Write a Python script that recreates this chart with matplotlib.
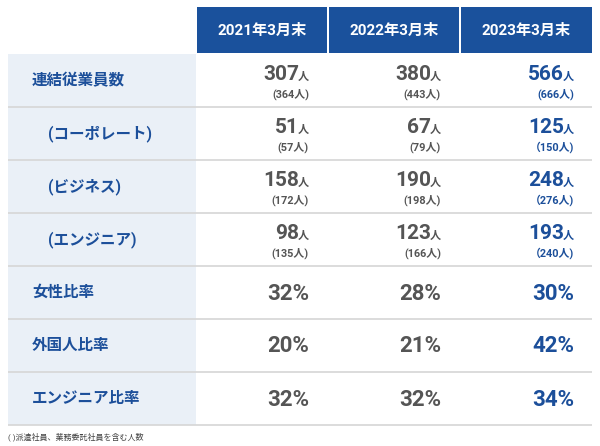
import matplotlib
matplotlib.use("Agg")
import matplotlib.pyplot as plt
from matplotlib.patches import Rectangle

plt.rcParams['font.family'] = ['Roboto', 'Noto Sans CJK JP', 'DejaVu Sans']

# table data
years = ["2021年3月末", "2022年3月末", "2023年3月末"]
row_labels = ["連結従業員数", "(コーポレート)", "(ビジネス)", "(エンジニア)",
              "女性比率", "外国人比率", "エンジニア比率"]
indented = [False, True, True, True, False, False, False]
counts = [[307, 380, 566],
          [51, 67, 125],
          [158, 190, 248],
          [98, 123, 193]]
counts_incl = [["(364人)", "(443人)", "(666人)"],
               ["(57人)", "(79人)", "（150人)"],
               ["(172人)", "(198人)", "（276人)"],
               ["(135人)", "(166人)", "（240人)"]]
ratios = [[32, 28, 30],
          [20, 21, 42],
          [32, 32, 34]]
note = "( )派遣社員、業務委託社員を含む人数"

HEAD_BLUE = "#1a519c"
LABEL_BLUE = "#1c4f9a"
GRAY = "#555555"
LABEL_BG = "#eaf0f7"
LINE = "#d6d6d6"

fig = plt.figure(figsize=(6, 4.46), dpi=100)
ax = fig.add_axes([0, 0, 1, 1])
ax.set_xlim(0, 600)
ax.set_ylim(446, 0)
ax.axis("off")

left, label_right = 8, 196
col_x = [(197, 327), (329, 459), (461, 592)]
head_top, head_bot = 7, 53
row_top, row_h = 54, 53
nrows = len(row_labels)

# header cells
for (x0, x1), yr in zip(col_x, years):
    ax.add_patch(Rectangle((x0, head_top), x1 - x0, head_bot - head_top,
                           color=HEAD_BLUE, lw=0))
    ax.text((x0 + x1) / 2, (head_top + head_bot) / 2 + 1, yr, color="white",
            fontsize=11, fontweight="bold", ha="center", va="center")

# label column background
ax.add_patch(Rectangle((left, row_top), label_right - left, row_h * nrows,
                       color=LABEL_BG, lw=0))

# row separators
for i in range(1, nrows + 1):
    y = row_top + i * row_h
    ax.plot([left, 592], [y, y], color=LINE, lw=1.2, solid_capstyle="butt")

fig.canvas.draw()
renderer = fig.canvas.get_renderer()


def value_with_unit(x_right, y, number, unit, color, size_main, size_unit):
    t = ax.text(x_right, y, unit, color=color, fontsize=size_unit,
                fontweight="bold", ha="right", va="baseline")
    w = t.get_window_extent(renderer).width
    ax.text(x_right - w + 1, y, number, color=color, fontsize=size_main,
            fontweight="bold", ha="right", va="baseline")


for i, lab in enumerate(row_labels):
    top = row_top + i * row_h
    lx = 48 if indented[i] else 32
    ax.text(lx, top + row_h / 2, lab, color=LABEL_BLUE, fontsize=11.2,
            fontweight="bold", ha="left", va="center")
    for j, (x0, x1) in enumerate(col_x):
        color = LABEL_BLUE if j == 2 else GRAY
        xr = x1 - 18
        if i < len(counts):
            value_with_unit(xr, top + 26, str(counts[i][j]), "人", color, 15, 8)
            ax.text(xr, top + 44, counts_incl[i][j], color=color, fontsize=7.8,
                    fontweight="bold", ha="right", va="baseline")
        else:
            ax.text(xr, top + row_h / 2 + 1, f"{ratios[i - len(counts)][j]}%",
                    color=color, fontsize=16, fontweight="bold",
                    ha="right", va="center")

ax.text(left, 437, note, color="#444444", fontsize=5.8, ha="left", va="center")

fig.savefig("out.png", dpi=100)
